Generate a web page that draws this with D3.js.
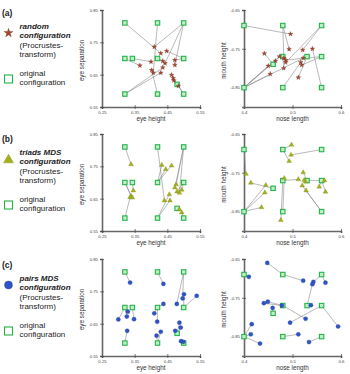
<!DOCTYPE html>
<html>
<head>
<meta charset="utf-8">
<script src="https://cdn.jsdelivr.net/npm/d3@7"></script>
<style>
  body { margin: 0; background: #fff; }
  svg { display: block; font-family: "Liberation Sans", Arial, sans-serif; }
</style>
</head>
<body>
<div id="chart"></div>
<script>
// original faces, [eye height, eye separation] and [nose length, mouth height]
var eyeOriginal = [
  [0.32, 0.81], [0.42, 0.81], [0.50, 0.81],
  [0.32, 0.70], [0.343, 0.70], [0.42, 0.70], [0.50, 0.70],
  [0.32, 0.59], [0.42, 0.59], [0.50, 0.59],
  [0.48, 0.62]
];
var mouthOriginal = [
  [0.40, -0.69], [0.48, -0.69], [0.56, -0.69],
  [0.48, -0.77], [0.46, -0.79], [0.53, -0.77], [0.56, -0.77],
  [0.40, -0.85], [0.48, -0.85], [0.56, -0.85]
];

// [x, y, index of original it belongs to]
var randomEye = [
  [0.410, 0.736, 2], [0.430, 0.716, 0], [0.448, 0.723, 6], [0.400, 0.690, 4],
  [0.366, 0.678, 3], [0.436, 0.692, 5], [0.443, 0.685, 2], [0.473, 0.695, 6],
  [0.473, 0.680, 2], [0.436, 0.672, 7], [0.402, 0.664, 8], [0.407, 0.656, 1],
  [0.430, 0.656, 7], [0.463, 0.649, 10], [0.468, 0.639, 9], [0.484, 0.615, 9],
  [0.470, 0.632, 10]
];
var randomMouth = [
  [0.496, -0.712, 0], [0.493, -0.751, 1], [0.521, -0.753, 2], [0.541, -0.750, 9],
  [0.442, -0.762, 4], [0.473, -0.770, 7], [0.482, -0.774, 1], [0.522, -0.774, 7],
  [0.465, -0.781, 7], [0.486, -0.779, 6], [0.486, -0.785, 2], [0.450, -0.794, 7],
  [0.517, -0.785, 8], [0.519, -0.792, 6], [0.482, -0.800, 3], [0.454, -0.815, 7],
  [0.512, -0.824, 5]
];
var triadsEye = [
  [0.339, 0.756, 0], [0.433, 0.754, 5], [0.445, 0.741, 5], [0.463, 0.752, 5],
  [0.346, 0.675, 4], [0.339, 0.658, 3], [0.336, 0.654, 7], [0.343, 0.653, 3],
  [0.477, 0.694, 2], [0.494, 0.677, 6], [0.473, 0.684, 2], [0.480, 0.672, 6],
  [0.487, 0.668, 2], [0.456, 0.663, 8], [0.441, 0.644, 1], [0.458, 0.644, 8],
  [0.487, 0.617, 10], [0.494, 0.607, 9]
];
var triadsMouth = [
  [0.404, -0.753, 0], [0.414, -0.776, 4], [0.445, -0.782, 7], [0.443, -0.801, 7],
  [0.436, -0.839, 7], [0.498, -0.678, 1], [0.497, -0.704, 2], [0.493, -0.720, 1],
  [0.483, -0.764, 8], [0.512, -0.767, 3], [0.522, -0.749, 5], [0.524, -0.769, 6],
  [0.527, -0.773, 5], [0.520, -0.783, 9], [0.528, -0.796, 9], [0.555, -0.786, 6],
  [0.566, -0.770, 6], [0.568, -0.799, 6], [0.476, -0.872, 3]
];
var pairsEye = [
  [0.336, 0.777, 0], [0.438, 0.773, 1], [0.540, 0.736, 6], [0.501, 0.741, 6],
  [0.497, 0.728, 2], [0.479, 0.711, 2], [0.438, 0.711, 5], [0.410, 0.682, 5],
  [0.329, 0.687, 3], [0.326, 0.672, 3], [0.348, 0.664, 4], [0.300, 0.663, 3],
  [0.419, 0.656, 5], [0.430, 0.625, 8], [0.417, 0.613, 8], [0.327, 0.628, 7],
  [0.487, 0.653, 10], [0.491, 0.638, 10], [0.474, 0.628, 10], [0.492, 0.596, 9],
  [0.499, 0.594, 9]
];
var pairsMouth = [
  [0.448, -0.660, 1], [0.410, -0.696, 0], [0.522, -0.706, 1], [0.543, -0.709, 2],
  [0.541, -0.715, 5], [0.568, -0.711, 2], [0.441, -0.764, 3], [0.449, -0.760, 3],
  [0.459, -0.776, 4], [0.478, -0.770, 3], [0.538, -0.769, 5], [0.527, -0.804, 3],
  [0.495, -0.814, 6], [0.416, -0.818, 7], [0.414, -0.844, 7], [0.433, -0.868, 7],
  [0.512, -0.844, 8], [0.534, -0.864, 9], [0.594, -0.824, 6]
];

var eyeXTicks = [0.25, 0.35, 0.45, 0.55];
var eyeYTicks = [0.55, 0.65, 0.75, 0.85];
var mouthXTicks = [0.4, 0.5, 0.6];
var mouthYTicks = [-0.85, -0.75, -0.65];

var panelLabels = ["(a)", "(b)", "(c)"];
var methodNames = ["random", "triads MDS", "pairs MDS"];

var panels = [
  {eye: randomEye, mouth: randomMouth, symbol: "star", color: "#a8462c", stroke: "#6e2a18", size: 7, legendSize: 24},
  {eye: triadsEye, mouth: triadsMouth, symbol: "triangle", color: "#a4b01c", stroke: "#7d8712", size: 10, legendSize: 42},
  {eye: pairsEye, mouth: pairsMouth, symbol: "circle", color: "#2f55c4", stroke: "#223f99", size: 14, legendSize: 50}
];
var offsets = [0, 124, 249];
var legendOffsets = [0, 126, 252];

var svg = d3.select("#chart").append("svg")
  .attr("width", 350)
  .attr("height", 374);

var green = "#26b24a";

function marker(sel, type, size) {   // config marker as a d3 symbol
  var sym = type == "star" ? d3.symbolStar : type == "triangle" ? d3.symbolTriangle : d3.symbolCircle;
  return sel.attr("d", d3.symbol().type(sym).size(size));
}

function drawPlot(g, x, y, xTicks, yTicks, xFmt, yFmt, xLabel, yLabel, orig, cfg, p) {
  var gx = g.append("g")
    .attr("transform", "translate(0," + y.range()[0] + ")")
    .call(d3.axisBottom(x).tickValues(xTicks).tickSizeOuter(0).tickSize(2).tickPadding(2).tickFormat(xFmt));
  var gy = g.append("g")
    .attr("transform", "translate(" + x.range()[0] + ",0)")
    .call(d3.axisLeft(y).tickValues(yTicks).tickSizeOuter(0).tickSize(2).tickPadding(2).tickFormat(yFmt));
  [gx, gy].forEach(function(a) {
    a.select(".domain").attr("stroke", "#666").attr("stroke-width", 1.6);
    a.selectAll(".tick line").attr("stroke", "#444").attr("stroke-width", 0.7);
    a.selectAll(".tick text").attr("font-size", 4.3).attr("fill", "#444")
      .attr("font-family", "Liberation Sans, Arial, sans-serif");
  });
  gx.selectAll(".tick line").attr("y1", -2);
  gy.selectAll(".tick line").attr("x1", 2);

  g.append("text")
    .attr("x", (x.range()[0] + x.range()[1]) / 2)
    .attr("y", y.range()[0] + 13.5)
    .attr("text-anchor", "middle")
    .attr("font-size", 6.3)
    .attr("fill", "#333")
    .text(xLabel);
  var cy = (y.range()[0] + y.range()[1]) / 2 + 2;
  g.append("text")
    .attr("transform", "translate(" + (x.range()[0] - 18) + "," + cy + ") rotate(-90)")
    .attr("text-anchor", "middle")
    .attr("font-size", 6.3)
    .attr("fill", "#333")
    .text(yLabel);

  // connecting lines
  g.append("g").selectAll("line").data(cfg).enter().append("line")
    .attr("x1", function(d) { return x(orig[d[2]][0]); })
    .attr("y1", function(d) { return y(orig[d[2]][1]); })
    .attr("x2", function(d) { return x(d[0]); })
    .attr("y2", function(d) { return y(d[1]); })
    .attr("stroke", "#8a8a8a")
    .attr("stroke-width", 0.6);

  g.append("g").selectAll("rect").data(orig).enter().append("rect")
    .attr("x", function(d) { return x(d[0]) - 2.2; })
    .attr("y", function(d) { return y(d[1]) - 2.2; })
    .attr("width", 4.4)
    .attr("height", 4.4)
    .attr("fill", "#bdf0c6")
    .attr("stroke", green)
    .attr("stroke-width", 1.1);

  g.append("g").selectAll("path").data(cfg).enter().append("path")
    .call(marker, p.symbol, p.size)
    .attr("transform", function(d) { return "translate(" + x(d[0]) + "," + y(d[1]) + ")"; })
    .attr("fill", p.color)
    .attr("stroke", p.stroke)
    .attr("stroke-width", 0.3);
}

panels.forEach(function(p, i) {
  var oy = offsets[i];
  var ly = legendOffsets[i];
  var g = svg.append("g");

  // legend on the left
  g.append("text").attr("x", 2).attr("y", ly + 15.5)
    .attr("font-size", 8.5).attr("font-weight", "bold").attr("fill", "#222")
    .text(panelLabels[i]);
  var lines = [methodNames[i], "configuration", "(Procrustes-", "transform)"];
  g.append("g").selectAll("text").data(lines).enter().append("text")
    .attr("x", 19.5)
    .attr("y", function(d, k) { return ly + 29 + k * 9.4; })
    .attr("font-size", 8)
    .attr("fill", "#222")
    .attr("font-weight", function(d, k) { return k < 2 ? "bold" : "normal"; })
    .attr("font-style", function(d, k) { return k < 2 ? "italic" : "normal"; })
    .text(function(d) { return d; });
  g.append("path")
    .call(marker, p.symbol, p.legendSize)
    .attr("transform", "translate(8.5," + (ly + (p.symbol == "triangle" ? 34 : 33)) + ")")
    .attr("fill", p.color)
    .attr("stroke", p.stroke)
    .attr("stroke-width", 0.4);
  g.append("g").selectAll("text").data(["original", "configuration"]).enter().append("text")
    .attr("x", 19.5)
    .attr("y", function(d, k) { return ly + 75.5 + k * 9.4; })
    .attr("font-size", 8)
    .attr("fill", "#222")
    .text(function(d) { return d; });
  g.append("rect")
    .attr("x", 4.5).attr("y", ly + 75)
    .attr("width", 8).attr("height", 8)
    .attr("fill", "#fff").attr("stroke", green).attr("stroke-width", 1.1);

  var ex = d3.scaleLinear().domain([0.25, 0.55]).range([102, 200]);
  var ey = d3.scaleLinear().domain([0.55, 0.85]).range([oy + 107, oy + 10]);
  var mx = d3.scaleLinear().domain([0.4, 0.6]).range([244, 341]);
  var my = d3.scaleLinear().domain([-0.9, -0.65]).range([oy + 107, oy + 10]);

  drawPlot(g.append("g"), ex, ey, eyeXTicks, eyeYTicks,
    function(d) { return d.toFixed(2); }, function(d) { return d.toFixed(2); },
    "eye height", "eye separation", eyeOriginal, p.eye, p);
  drawPlot(g.append("g"), mx, my, mouthXTicks, mouthYTicks,
    function(d) { return d.toFixed(1); }, function(d) { return d.toFixed(2); },
    "nose length", "mouth height", mouthOriginal, p.mouth, p);
});
</script>
</body>
</html>
